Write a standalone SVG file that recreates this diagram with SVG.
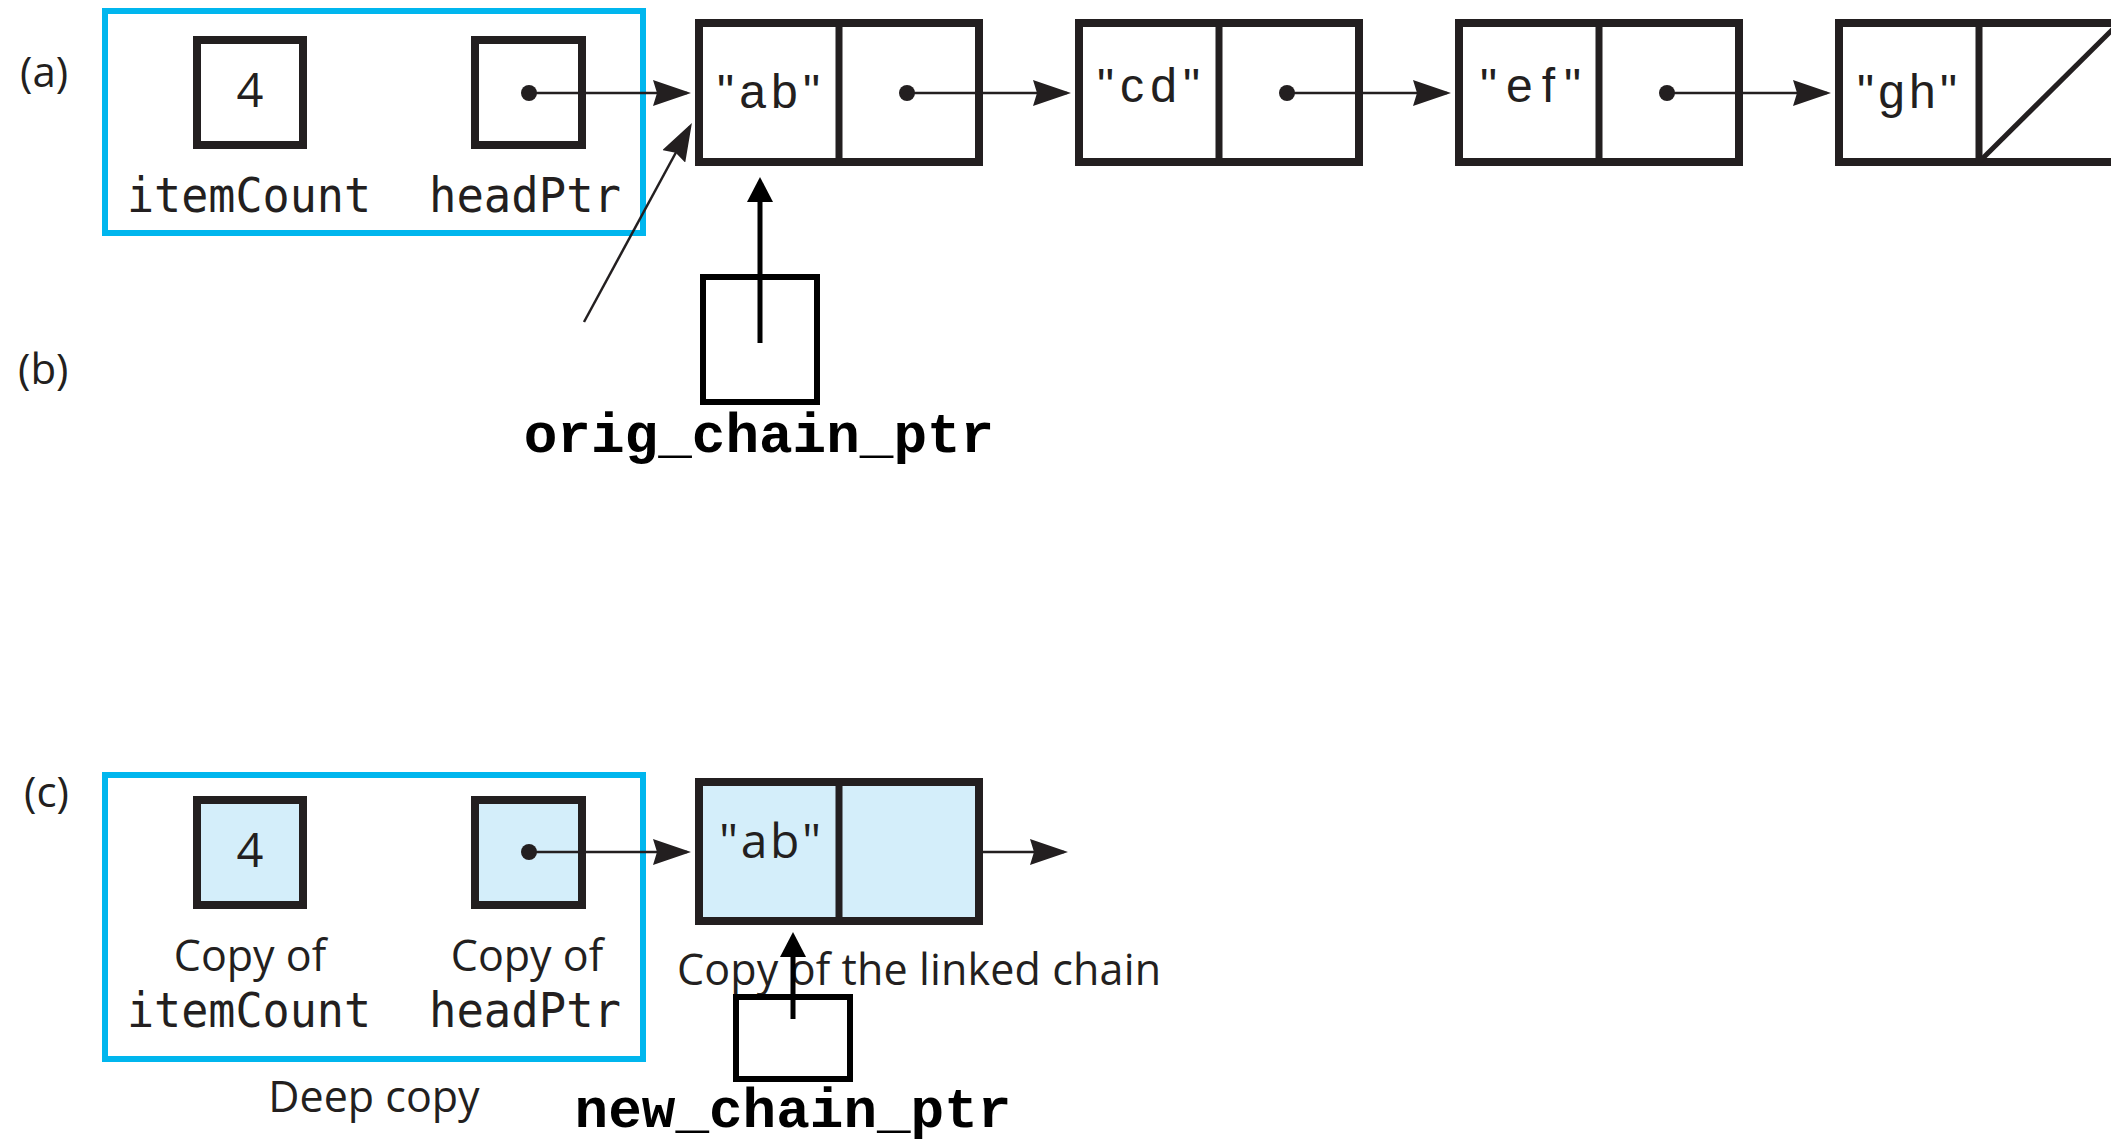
<svg xmlns="http://www.w3.org/2000/svg" width="2111" height="1140" viewBox="0 0 2111 1140">
  <style>
    .cell{fill:#fff;stroke:#231f20;stroke-width:8}
    .copy{fill:#d4eefa}
    .frame{fill:none;stroke:#00b6ee;stroke-width:6}
    .ptrbox{fill:#fff;stroke:#000;stroke-width:6}
    .div{stroke:#231f20;stroke-width:7}
    .hum{font-family:"Open Sans","Noto Sans",sans-serif;fill:#231f20}
    .mono{font-family:"DejaVu Sans Mono","Liberation Mono",monospace;fill:#231f20;font-size:48px}
    .val{font-family:"Liberation Sans",Arial,sans-serif;fill:#231f20;font-size:48px}
    .code{font-family:"Liberation Mono","Courier New",monospace;font-weight:bold;fill:#000;font-size:56px}
    .link{stroke:#231f20;stroke-width:2.5;fill:none;marker-end:url(#head)}
    .ptr{stroke:#000;stroke-width:5;fill:none;marker-end:url(#headBold)}
    .dot{fill:#231f20}
  </style>
  <defs>
    <marker id="head" viewBox="0 0 38 26" refX="34" refY="13" markerWidth="38" markerHeight="26" markerUnits="userSpaceOnUse" orient="auto">
      <path d="M0,0 L38,13 L0,26 L4,13 Z" fill="#231f20"/>
    </marker>
    <marker id="headBold" viewBox="0 0 25 26" refX="18" refY="13" markerWidth="25" markerHeight="26" markerUnits="userSpaceOnUse" orient="auto">
      <path d="M0,0 L25,13 L0,26 Z" fill="#000"/>
    </marker>
  </defs>

  <!-- part labels -->
  <g id="labels" class="hum" font-size="42">
    <text x="20" y="87">(a)</text>
    <text x="18" y="384">(b)</text>
    <text x="24" y="807">(c)</text>
  </g>

  <!-- (a) original object -->
  <g id="object-a">
    <rect class="frame" x="105" y="11" width="538" height="222"/>
    <g id="itemCount-a">
      <rect class="cell" x="197" y="40" width="106" height="105"/>
      <text class="hum" x="250" y="107" font-size="47" text-anchor="middle">4</text>
      <text class="mono" x="127" y="212" textLength="244" lengthAdjust="spacingAndGlyphs">itemCount</text>
    </g>
    <g id="headPtr-a">
      <rect class="cell" x="475" y="40" width="107" height="105"/>
      <circle class="dot" cx="529" cy="93" r="8"/>
      <text class="mono" x="429" y="212" textLength="192" lengthAdjust="spacingAndGlyphs">headPtr</text>
    </g>
  </g>

  <!-- original linked chain -->
  <g id="node-ab">
    <rect class="cell" x="699" y="23" width="280" height="139"/>
    <line class="div" x1="839" y1="23" x2="839" y2="162"/>
    <text class="val" x="717" y="108" textLength="103">"ab"</text>
    <circle class="dot" cx="907" cy="93" r="8"/>
  </g>
  <g id="node-cd">
    <rect class="cell" x="1079" y="23" width="280" height="139"/>
    <line class="div" x1="1219" y1="23" x2="1219" y2="162"/>
    <text class="val" x="1097" y="102" textLength="103">"cd"</text>
    <circle class="dot" cx="1287" cy="93" r="8"/>
  </g>
  <g id="node-ef">
    <rect class="cell" x="1459" y="23" width="280" height="139"/>
    <line class="div" x1="1599" y1="23" x2="1599" y2="162"/>
    <text class="val" x="1480" y="102" textLength="101">"ef"</text>
    <circle class="dot" cx="1667" cy="93" r="8"/>
  </g>
  <g id="node-gh">
    <rect class="cell" x="1839" y="23" width="280" height="139"/>
    <line class="div" x1="1979" y1="23" x2="1979" y2="162"/>
    <line stroke="#231f20" stroke-width="5" x1="1979" y1="162" x2="2119" y2="23"/>
    <text class="val" x="1857" y="108" textLength="100">"gh"</text>
  </g>

  <!-- (b) traversal pointer -->
  <g id="orig-chain-ptr">
    <rect class="ptrbox" x="703" y="277" width="114" height="125"/>
    <text class="code" x="759" y="452" text-anchor="middle">orig_chain_ptr</text>
  </g>

  <!-- (c) deep copy -->
  <g id="object-c">
    <rect class="frame" x="105" y="775" width="538" height="284"/>
    <g id="itemCount-c">
      <rect class="cell copy" x="197" y="800" width="106" height="105"/>
      <text class="hum" x="250" y="867" font-size="47" text-anchor="middle">4</text>
      <text class="hum" x="250" y="971" font-size="43" text-anchor="middle">Copy of</text>
      <text class="mono" x="127" y="1027" textLength="244" lengthAdjust="spacingAndGlyphs">itemCount</text>
    </g>
    <g id="headPtr-c">
      <rect class="cell copy" x="475" y="800" width="107" height="105"/>
      <circle class="dot" cx="529" cy="852" r="8"/>
      <text class="hum" x="527" y="971" font-size="43" text-anchor="middle">Copy of</text>
      <text class="mono" x="429" y="1027" textLength="192" lengthAdjust="spacingAndGlyphs">headPtr</text>
    </g>
    <text class="hum" x="374" y="1112" font-size="43" text-anchor="middle">Deep copy</text>
  </g>

  <g id="node-ab-copy">
    <rect class="cell copy" x="699" y="782" width="280" height="139"/>
    <line class="div" x1="839" y1="782" x2="839" y2="921"/>
    <text class="hum" x="719" y="858" font-size="48" textLength="102">"ab"</text>
    <text class="hum" x="677" y="985" font-size="43" textLength="484">Copy of the linked chain</text>
  </g>

  <g id="new-chain-ptr">
    <rect class="ptrbox" x="736" y="997" width="114" height="82"/>
    <text class="code" x="793" y="1127" text-anchor="middle">new_chain_ptr</text>
  </g>

  <!-- connectors -->
  <g id="connectors">
    <line class="link" x1="529" y1="93" x2="687" y2="93"/>
    <line class="link" x1="907" y1="93" x2="1067" y2="93"/>
    <line class="link" x1="1287" y1="93" x2="1447" y2="93"/>
    <line class="link" x1="1667" y1="93" x2="1827" y2="93"/>
    <line class="link" x1="584" y1="322" x2="690" y2="126.5"/>
    <line class="link" x1="529" y1="852" x2="687" y2="852"/>
    <line class="link" x1="983" y1="852" x2="1064" y2="852"/>
    <line class="ptr" x1="760" y1="343" x2="760" y2="184"/>
    <line class="ptr" x1="793" y1="1019" x2="793" y2="939"/>
  </g>
</svg>
